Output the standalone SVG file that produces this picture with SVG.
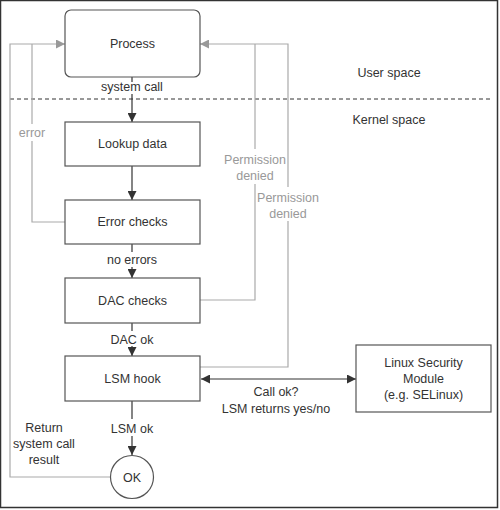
<svg xmlns="http://www.w3.org/2000/svg" width="500" height="510" viewBox="0 0 500 510">
<defs>
<style>
.box{fill:#fff;stroke:#555;stroke-width:1.2}
.t{font-family:"Liberation Sans",Arial,sans-serif;font-size:12.5px;fill:#333;text-anchor:middle}
.g{fill:#999}
.dk{fill:none;stroke:#333;stroke-width:1.2}
.gr{fill:none;stroke:#aaa;stroke-width:1.2}
</style>
<marker id="ad" viewBox="0 0 10 10" refX="10" refY="5" markerWidth="9" markerHeight="9" markerUnits="userSpaceOnUse" orient="auto-start-reverse"><path d="M0,0 L10,5 L0,10 z" fill="#333"/></marker>
<marker id="ag" viewBox="0 0 10 10" refX="10" refY="5" markerWidth="9" markerHeight="9" markerUnits="userSpaceOnUse" orient="auto"><path d="M0,0 L10,5 L0,10 z" fill="#999"/></marker>
</defs>
<rect x="0.5" y="0.5" width="497" height="507" fill="#fff" stroke="#333" stroke-width="1.5"/>
<line x1="10" y1="99" x2="493" y2="99" stroke="#333" stroke-width="1" stroke-dasharray="4,3"/>
<text class="t" x="389" y="77">User space</text>
<text class="t" x="389" y="124">Kernel space</text>

<g id="connectors">
<path class="dk" d="M132,77 V82"/>
<path class="dk" d="M132,94 V122" marker-end="url(#ad)"/>
<path class="dk" d="M132,166 V200" marker-end="url(#ad)"/>
<path class="dk" d="M132,244 V252"/>
<path class="dk" d="M132,267 V278" marker-end="url(#ad)"/>
<path class="dk" d="M132,323 V331"/>
<path class="dk" d="M132,346 V356" marker-end="url(#ad)"/>
<path class="dk" d="M132,401 V419"/>
<path class="dk" d="M132,436 V455" marker-end="url(#ad)"/>
<path class="dk" d="M201,379 H356" marker-start="url(#ad)" marker-end="url(#ad)"/>
<path class="gr" d="M111,477 H10 V44 H65" marker-end="url(#ag)"/>
<path class="gr" d="M65,222 H32 V141"/>
<path class="gr" d="M32,124 V44"/>
<path class="gr" d="M200,300 H255 V184"/>
<path class="gr" d="M255,149 V44"/>
<path class="gr" d="M200,367 H288 V221"/>
<path class="gr" d="M288,187 V44 H200" marker-end="url(#ag)"/>
<text class="t" x="132" y="91">system call</text>
<text class="t" x="132" y="264">no errors</text>
<text class="t" x="132" y="344">DAC ok</text>
<text class="t" x="132" y="433">LSM ok</text>
<text class="t g" x="32" y="137">error</text>
<text class="t g" x="255" y="164">Permission</text>
<text class="t g" x="255" y="180">denied</text>
<text class="t g" x="288" y="202">Permission</text>
<text class="t g" x="288" y="218">denied</text>
<text class="t" x="276" y="396">Call ok?</text>
<text class="t" x="276" y="413">LSM returns yes/no</text>
<text class="t" x="44" y="432">Return</text>
<text class="t" x="44" y="448">system call</text>
<text class="t" x="44" y="464">result</text>
</g>

<g id="process"><rect class="box" x="65" y="10" width="135" height="67" rx="6"/><text class="t" x="132.5" y="48">Process</text></g>
<g id="lookup"><rect class="box" x="65" y="122" width="135" height="44"/><text class="t" x="132.5" y="148">Lookup data</text></g>
<g id="errorchecks"><rect class="box" x="65" y="200" width="135" height="44"/><text class="t" x="132.5" y="226">Error checks</text></g>
<g id="dac"><rect class="box" x="65" y="278" width="135" height="45"/><text class="t" x="132.5" y="305">DAC checks</text></g>
<g id="lsmhook"><rect class="box" x="65" y="356" width="135" height="45"/><text class="t" x="132.5" y="383">LSM hook</text></g>
<g id="ok"><circle cx="132" cy="477" r="21.5" fill="#fff" stroke="#555" stroke-width="1.2"/><text class="t" x="132" y="482">OK</text></g>
<g id="lsm"><rect class="box" x="356" y="345" width="135" height="67"/><text class="t" x="423.5" y="367">Linux Security</text><text class="t" x="423.5" y="383">Module</text><text class="t" x="423.5" y="399">(e.g. SELinux)</text></g>
</svg>
